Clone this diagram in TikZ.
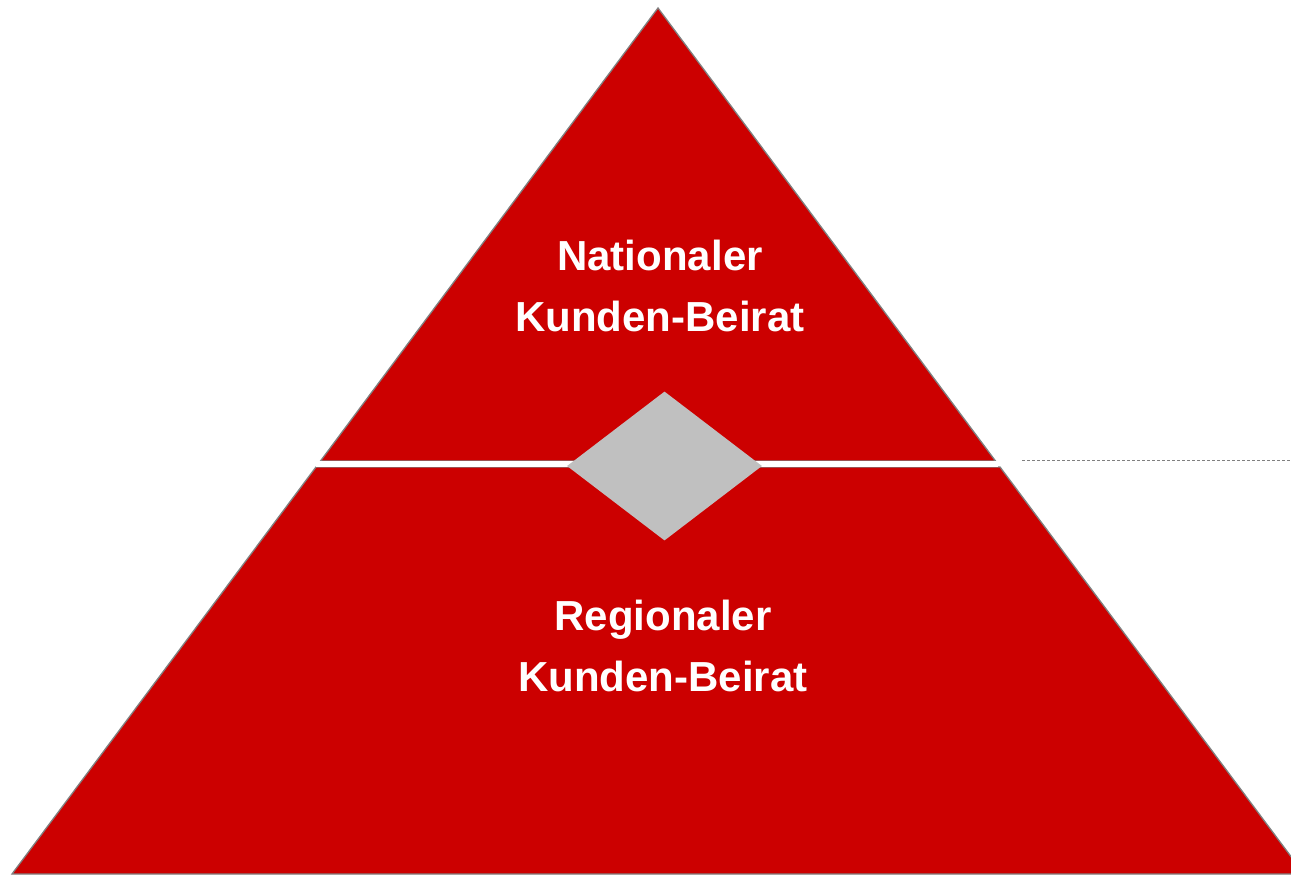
\documentclass[tikz,border=0pt]{standalone}
\usepackage{fontspec}
\setmainfont{Liberation Sans}
\usepackage{xcolor}
\usepackage{tikz}
\usetikzlibrary{positioning}
\usetikzlibrary{shapes.geometric}
\definecolor{pyrred}{RGB}{204,0,0}
\definecolor{edgegray}{RGB}{128,128,128}
\definecolor{diagray}{RGB}{192,192,192}

\begin{document}
\begin{tikzpicture}[x=1pt,y=-1pt,
                    level/.style={fill=pyrred,draw=edgegray,line width=1.3pt,line join=miter},
                    gap/.style={draw=white,line width=6pt},
                    label/.style={text=white,font=\bfseries\fontsize{42}{61}\selectfont,align=center},
                    joint/.style={diamond,fill=diagray,draw=none,inner sep=0pt,
                                  minimum width=195pt,minimum height=149pt},
                    guide/.style={draw=edgegray,line width=1pt,dash pattern=on 3pt off 2pt}]
\useasboundingbox (0,0) rectangle (1291,875);
\clip (0,0) rectangle (1291,875);
\coordinate (apex) at (658,8);
\coordinate (topL) at (320.5,461);
\coordinate (topR) at (995.5,461);
\coordinate (midL) at (316,467);
\coordinate (midR) at (1000,467);
\coordinate (baseL) at (12,874);
\coordinate (baseR) at (1304,874);
% the two levels
\draw[level] (apex) -- (topL) -- (topR) -- cycle;
\draw[level] (midL) -- (baseL) -- (baseR) -- (midR) -- cycle;
\coordinate (gapL) at (316,464);
\coordinate (gapR) at (998,464);
\draw[gap] (gapL) -- (gapR);
\node[joint] (link) at (664.5,466) {};
\node[label] (nat) at (660,285.5) {Nationaler\\Kunden-Beirat};
\node[label] (reg) at (663,645.5) {Regionaler\\Kunden-Beirat};
% dotted guide on the right
\coordinate (guideL) at (1022,460);
\coordinate (guideR) at (1291,460);
\draw[guide] (guideL) -- (guideR);
\end{tikzpicture}
\end{document}
